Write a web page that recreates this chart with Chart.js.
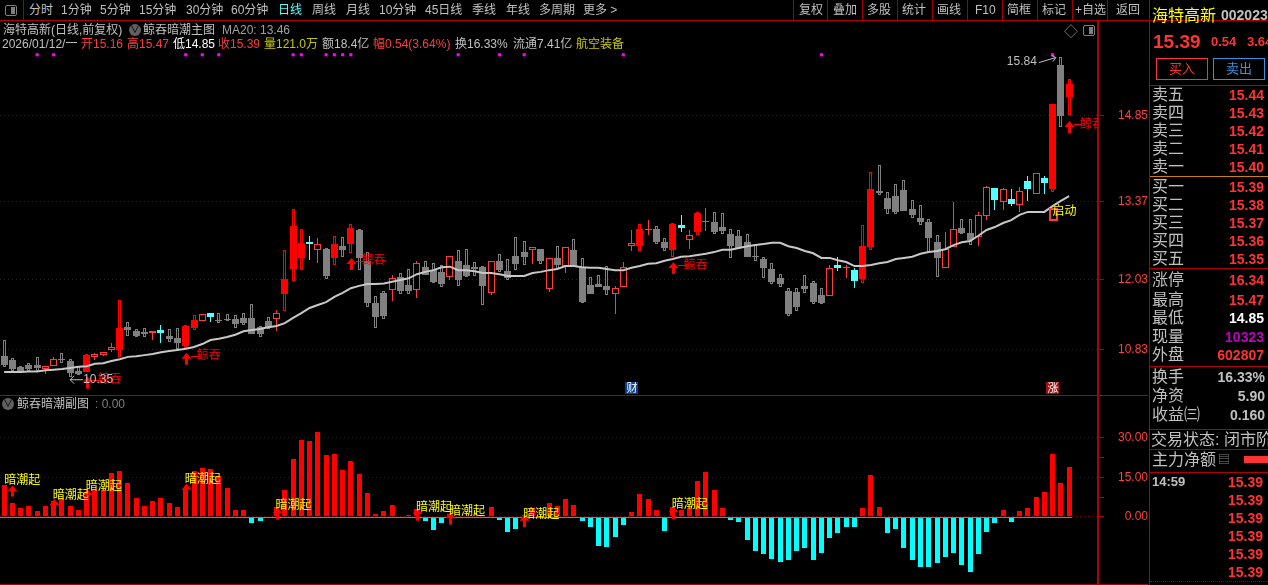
<!DOCTYPE html>
<html>
<head>
<meta charset="utf-8">
<title>海特高新</title>
<script src="https://cdn.jsdelivr.net/npm/chart.js@4"></script>
<style>
  html, body { margin: 0; padding: 0; background: #000; overflow: hidden; }
  #stage { position: relative; width: 1268px; height: 585px; overflow: hidden; background: #000;
    font-family: "Liberation Sans", "Noto Sans CJK SC", sans-serif; font-size: 12px; color: #c0c0c0; }
  #stage span.t { position: absolute; white-space: nowrap; line-height: 16px; height: 16px; }
  #stage div.l { position: absolute; }
  canvas { position: absolute; left: 0; }
</style>
</head>
<body>
<div id="stage">
  <canvas id="mainChart" width="1148" height="375" style="top:20px"></canvas>
  <canvas id="subChart" width="1148" height="190" style="top:395px"></canvas>
</div>
<script>
// 日K (前复权) 价格
const opens = [
  10.71,10.65,10.53,10.56,10.56,10.49,10.54,10.66,10.63,10.46,
  10.44,10.70,10.73,10.82,10.82,11.21,11.14,11.13,11.11,11.16,
  11.06,11.02,10.89,11.20,11.32,11.45,11.33,11.35,11.35,11.37,
  11.37,11.21,11.32,11.35,11.78,12.21,12.40,12.67,12.54,12.55,
  12.40,12.60,12.64,12.88,12.35,11.62,11.80,11.85,12.07,11.93,
  11.85,12.24,12.19,12.16,12.07,12.35,12.28,12.24,12.24,11.80,
  12.35,12.17,12.43,12.50,12.54,12.55,11.87,12.40,12.26,12.54,
  12.24,11.93,11.95,11.92,11.78,11.90,12.60,12.60,12.88,12.90,
  12.67,12.54,12.97,12.71,12.84,13.02,13.02,12.93,12.81,12.78,
  12.67,12.43,12.38,12.21,12.05,11.83,11.82,11.92,11.97,11.76,
  11.75,12.28,12.23,12.19,12.04,12.59,13.55,13.43,13.46,13.57,
  13.24,13.09,13.02,12.67,12.23,12.59,12.91,12.83,12.76,13.12,
  13.60,13.36,13.41,13.31,13.72,13.50,13.77,13.58,15.71,15.16
];
const highs = [
  10.99,10.68,10.54,10.59,10.70,10.54,10.70,10.77,10.66,10.54,
  10.75,10.77,10.78,10.94,11.68,11.30,11.18,11.20,11.14,11.25,
  11.18,11.20,11.25,11.42,11.44,11.45,11.45,11.44,11.42,11.45,
  11.61,11.23,11.38,11.51,12.54,13.24,12.90,12.78,12.74,12.57,
  12.78,12.76,12.98,12.90,12.50,11.75,11.83,12.11,12.14,12.21,
  12.35,12.35,12.31,12.28,12.43,12.54,12.55,12.33,12.26,12.35,
  12.47,12.38,12.76,12.69,12.59,12.55,12.40,12.60,12.59,12.72,
  12.40,12.07,12.11,12.26,11.92,12.33,12.88,12.98,13.05,12.95,
  12.74,13.00,13.14,12.88,13.19,13.26,13.19,13.17,12.90,12.88,
  12.81,12.62,12.42,12.31,12.12,11.88,11.88,12.11,12.00,11.88,
  12.28,12.42,12.28,12.23,12.97,13.88,14.00,13.53,13.67,13.74,
  13.40,13.31,13.07,12.79,12.84,13.36,13.07,13.07,13.19,13.64,
  13.60,13.60,13.58,13.62,13.81,13.86,13.81,15.04,15.85,15.47
];
const lows = [
  10.53,10.46,10.43,10.46,10.46,10.41,10.54,10.59,10.35,10.39,
  10.44,10.65,10.71,10.78,10.70,11.06,11.04,11.04,10.99,10.94,
  10.96,10.84,10.85,11.16,11.32,11.30,11.28,11.32,11.20,11.25,
  11.09,11.04,11.18,11.14,11.49,12.00,12.19,12.36,12.31,12.04,
  12.28,12.42,12.48,12.19,11.56,11.20,11.35,11.66,11.78,11.78,
  11.71,12.11,11.97,11.90,12.02,11.92,12.07,12.09,11.59,11.76,
  12.16,12.02,12.19,12.28,12.30,12.30,11.82,12.21,12.14,12.24,
  11.62,11.78,11.90,11.76,11.44,11.90,12.52,12.52,12.79,12.64,
  12.52,12.42,12.84,12.55,12.79,12.86,12.81,12.81,12.40,12.55,
  12.42,12.35,12.05,11.95,11.90,11.40,11.49,11.80,11.61,11.61,
  11.75,12.17,12.05,11.88,11.97,12.54,13.48,13.15,13.15,13.21,
  13.09,12.97,12.50,12.07,12.23,12.59,12.81,12.62,12.60,13.05,
  13.22,13.22,13.29,13.19,13.38,13.50,13.50,13.53,14.65,14.85
];
const closes = [
  10.56,10.49,10.44,10.49,10.51,10.54,10.66,10.65,10.42,10.41,
  10.73,10.75,10.78,10.87,11.20,11.16,11.06,11.09,11.14,11.11,
  11.01,10.94,11.23,11.33,11.44,11.38,11.32,11.33,11.27,11.28,
  11.09,11.09,11.21,11.45,12.04,12.95,12.66,12.64,12.64,12.09,
  12.64,12.54,12.91,12.40,11.62,11.38,11.40,12.05,11.83,11.83,
  12.31,12.11,11.99,11.95,12.43,12.02,12.09,12.21,11.92,12.35,
  12.19,12.05,12.30,12.42,12.59,12.35,12.40,12.28,12.59,12.26,
  11.64,11.78,11.90,11.85,11.88,12.24,12.66,12.90,12.90,12.67,
  12.57,12.98,12.91,12.79,13.17,13.03,12.84,12.86,12.60,12.57,
  12.42,12.42,12.23,11.99,11.95,11.44,11.56,11.87,11.64,11.62,
  12.23,12.23,12.24,12.00,12.60,13.58,13.52,13.24,13.19,13.21,
  13.14,13.02,12.74,12.40,12.55,12.90,12.83,12.71,13.14,13.62,
  13.40,13.58,13.33,13.55,13.58,13.86,13.69,15.04,14.84,15.39
];
// K线状态 G=跌 R=涨实体 H=涨空心 C=青色信号
const candleState = (
  'G G G G G H H G G G ' + 'R H H H R G G G H C ' + 'G G R R H C G G G G ' +
  'G G G H R R R C H G ' + 'R G R G G G G H G G ' + 'H G G G H G G G G H ' +
  'G G G G H G H G H G ' + 'G G G G H H H R H G ' + 'G R C H R H G G G G ' +
  'G G G G G G G G G G ' + 'H C H C R R G G G G ' + 'G G G G H H G G H H ' +
  'C H C H C H C R G R').split(' ');
const ma20 = [
  10.44,10.44,10.44,10.45,10.45,10.47,10.48,10.49,10.51,10.53,
  10.54,10.58,10.59,10.63,10.66,10.70,10.71,10.73,10.75,10.78,
  10.80,10.82,10.84,10.87,10.92,10.99,11.01,11.04,11.08,11.14,
  11.16,11.18,11.21,11.23,11.28,11.37,11.45,11.54,11.59,11.64,
  11.73,11.80,11.88,11.92,11.95,11.95,11.96,11.99,12.02,12.05,
  12.12,12.16,12.19,12.24,12.25,12.19,12.19,12.17,12.14,12.14,
  12.12,12.09,12.09,12.09,12.14,12.16,12.19,12.21,12.26,12.26,
  12.24,12.23,12.23,12.21,12.19,12.19,12.23,12.26,12.30,12.31,
  12.35,12.38,12.42,12.43,12.45,12.47,12.50,12.54,12.54,12.57,
  12.60,12.62,12.64,12.66,12.66,12.60,12.57,12.52,12.48,12.40,
  12.40,12.36,12.33,12.26,12.26,12.28,12.31,12.33,12.38,12.40,
  12.42,12.47,12.50,12.52,12.55,12.62,12.67,12.69,12.78,12.88,
  12.93,13.00,13.05,13.14,13.19,13.19,13.19,13.29,13.38,13.46
];
// 副图柱
const subValues = [
  11.9,5.4,3.5,4.3,2.4,4.3,6.2,7.0,4.3,2.8,
  8.1,10,10,16.5,17.2,12.7,7.3,4.3,6.2,7.3,
  5.1,3.9,10.6,17.2,18.4,18,15.3,10.8,2.8,2.8,
  -2.2,-1.4,0,3.7,10,21.8,29,28.6,32,23.3,
  23.7,17.6,21,16.1,9.2,1.3,2.4,4.7,0,0.9,
  3,-1.4,-4.8,-2.2,1.1,0.5,0.5,0.3,0.8,3.9,
  -1,-5.6,-4.4,0.8,3.5,0.5,5.4,4.3,6.6,4.7,
  -1.4,-3.7,-10.9,-11.3,-7.5,-2.9,2,8.5,6.6,2.8,
  -5.2,3.9,2.8,3.5,13.4,16.8,10,3.2,-1,-1.8,
  -8.6,-12.8,-13.9,-15.8,-17,-16.2,-12.7,-11.6,-16.2,-13.5,
  -7.8,-5.9,-3.7,-3.7,3.5,15.7,3.9,-5.9,-4.4,-11.6,
  -16.2,-18.9,-18.9,-17.3,-15,-13.5,-18.1,-20.8,-13.9,-5.6,
  -2.2,2.8,-1.8,2.4,3.5,7.7,9.6,23.7,12.7,18.7
];
const priceTicks = [14.85, 13.37, 12.03, 10.83];
const subTicks = [30, 22.5, 15, 7.5, 0];
const subTickLabels = { 30: '30.00', 15: '15.00', 0: '0.00' };

// 信号
const magentaIndex = [4,6,22,24,26,35,36,39,40,41,42,55,60,63,75,99,127];
const magentaPrice = 15.89;
const whaleIndex = [10,22,42,81,129];
const whaleTip = [10.36,10.77,12.40,12.33,14.75];
const darkTextIndex = [0,6,10,22,33,50,54,63,81];
const darkArrowIndex = [1,6,10,22,33,50,54,63,81];
const darkArrowTip = [11.9,6.8,10.6,12.5,3.7,3.4,1.8,0.8,4.0];
const darkArrowEnd = [7.7,4.2,7.5,9.5,-1,-1.4,-2.9,-3.9,-0.8];
const darkTextValue = [14.2,8.5,11.9,14.5,4.7,3.9,2.4,1.3,5.1];

const labels = [];
for (let i = 0; i < 133; i++) labels.push(i < 130 ? String(i) : '');

const bodyFill = { G: '#808080', R: '#ff0000', H: '#000000', C: '#54ffff' };
const bodyLine = { G: '#808080', R: '#ff0000', H: '#ff3c3c', C: '#54ffff' };
const gridRed = '#7a0000';
const axisRed = '#b00000';
const tickRed = '#ff4040';
const numFont = '12px "Liberation Sans", "Noto Sans CJK SC"';

// 把柱子对齐到整数像素,否则1px影线会发虚
const pixelSnap = {
  id: 'pixelSnap',
  afterDatasetsUpdate(chart) {
    chart.getSortedVisibleDatasetMetas().forEach(meta => {
      if (meta.type !== 'bar') return;
      meta.data.forEach(el => {
        if (!isFinite(el.x) || !isFinite(el.y)) return;
        el.x = Math.round(el.x - el.width / 2) + el.width / 2;
        el.y = Math.round(el.y);
        el.base = Math.round(el.base);
      });
    });
  }
};

function upArrow(ctx, x, tipY, endY) {
  x = Math.round(x);
  ctx.fillStyle = '#ff0000';
  ctx.beginPath();
  ctx.moveTo(x + 0.5, tipY);
  ctx.lineTo(x + 5.5, tipY + 6);
  ctx.lineTo(x - 4.5, tipY + 6);
  ctx.closePath();
  ctx.fill();
  ctx.fillRect(x - 1, tipY + 5, 3, endY - tipY - 5);
}

const mainMarks = {
  id: 'mainMarks',
  afterDatasetsDraw(chart) {
    const { ctx, scales: { x, y }, chartArea } = chart;
    ctx.save();
    ctx.beginPath();
    ctx.rect(chartArea.left, chartArea.top, chartArea.width, chartArea.height);
    ctx.clip();
    ctx.textBaseline = 'middle';

    // 鲸吞
    whaleIndex.forEach((idx, n) => {
      const px = x.getPixelForValue(idx);
      const tip = y.getPixelForValue(whaleTip[n]);
      upArrow(ctx, px, tip, tip + 12);
      ctx.fillRect(Math.round(px) + 5, Math.round(tip) + 3, 7, 1);
      ctx.font = '12px "Noto Sans CJK SC"';
      ctx.fillText('鲸吞', px + 11, tip + 2);
    });

    // 最低价 10.35
    const lowX = x.getPixelForValue(8);
    const lowY = y.getPixelForValue(lows[8]);
    ctx.strokeStyle = '#c0c0c0';
    ctx.fillStyle = '#c0c0c0';
    ctx.lineWidth = 1;
    ctx.beginPath();
    ctx.moveTo(lowX + 13, lowY + 2.5);
    ctx.lineTo(lowX, lowY + 2.5);
    ctx.moveTo(lowX + 4, lowY - 1.5);
    ctx.lineTo(lowX, lowY + 2.5);
    ctx.lineTo(lowX + 4, lowY + 6.5);
    ctx.stroke();
    ctx.font = numFont;
    ctx.textAlign = 'left';
    ctx.fillText(lows[8].toFixed(2), lowX + 13, lowY + 2);

    // 最高价 15.84
    const topX = x.getPixelForValue(128);
    const topY = y.getPixelForValue(highs[128]);
    ctx.beginPath();
    ctx.moveTo(topX - 22, topY + 5.5);
    ctx.lineTo(topX - 5, topY + 0.5);
    ctx.moveTo(topX - 9, topY - 1.5);
    ctx.lineTo(topX - 5, topY + 0.5);
    ctx.lineTo(topX - 8, topY + 4.5);
    ctx.stroke();
    ctx.textAlign = 'right';
    ctx.fillText('15.84', topX - 24, topY + 5);
    ctx.textAlign = 'left';

    // 启动
    const startX = x.getPixelForValue(127);
    ctx.strokeStyle = '#ff3c3c';
    ctx.lineWidth = 2;
    ctx.strokeRect(Math.round(startX) - 3, y.getPixelForValue(13.24), 7, 11);
    ctx.fillStyle = '#ffff00';
    ctx.font = '12px "Noto Sans CJK SC"';
    ctx.fillText('启动', startX, y.getPixelForValue(13.21));

    // 财 / 涨
    [[76, '财', '#0a3f90'], [127, '涨', '#a01010']].forEach(([idx, txt, bg]) => {
      const px = Math.round(x.getPixelForValue(idx));
      ctx.fillStyle = bg;
      ctx.fillRect(px - 7, 362, 13, 12);
      ctx.fillStyle = '#ffffff';
      ctx.font = '11px "Noto Sans CJK SC"';
      ctx.textAlign = 'center';
      ctx.fillText(txt, px, 368);
    });
    ctx.restore();
  }
};

const subMarks = {
  id: 'subMarks',
  afterDatasetsDraw(chart) {
    const { ctx, scales: { x, y } } = chart;
    ctx.save();
    // 零轴
    ctx.fillStyle = '#808080';
    ctx.fillRect(0, Math.round(y.getPixelForValue(0)), Math.round(x.getPixelForValue(129)) + 3, 1);
    darkArrowIndex.forEach((idx, n) => {
      upArrow(ctx, x.getPixelForValue(idx), y.getPixelForValue(darkArrowTip[n]), y.getPixelForValue(darkArrowEnd[n]));
    });
    ctx.fillStyle = '#ffff00';
    ctx.font = '12px "Noto Sans CJK SC"';
    ctx.textBaseline = 'middle';
    darkTextIndex.forEach((idx, n) => {
      ctx.fillText('暗潮起', x.getPixelForValue(idx) - (idx === 0 ? 0 : 1), y.getPixelForValue(darkTextValue[n]));
    });
    ctx.restore();
  }
};

function yAxis(min, max, ticks, label) {
  return {
    position: 'right',
    min: min,
    max: max,
    afterFit: s => {
      // 刻度标签不要把绘图区往里缩
      s.width = 50;
      s.paddingTop = 0;
      s.paddingBottom = 0;
      s._margins.top = 0;
      s._margins.bottom = 0;
    },
    afterBuildTicks: s => { s.ticks = ticks.map(v => ({ value: v })); },
    border: { color: axisRed, width: 2, dash: [1, 3] },
    grid: {
      color: c => (label(c.tick.value) ? gridRed : 'transparent'),
      tickColor: axisRed,
      tickLength: 6,
      tickBorderDash: []
    },
    ticks: {
      color: tickRed,
      font: { family: '"Liberation Sans"', size: 12 },
      autoSkip: false,
      padding: 9,
      crossAlign: 'far',
      callback: v => label(v)
    }
  };
}

Chart.defaults.animation = false;

new Chart(document.getElementById('mainChart'), {
  type: 'bar',
  plugins: [pixelSnap, mainMarks],
  data: {
    labels: labels,
    datasets: [
      {
        type: 'line', label: 'signal', order: 0,
        data: labels.map((l, i) => (magentaIndex.includes(i) ? magentaPrice : null)),
        showLine: false, pointStyle: 'rect', pointRadius: 2.2,
        pointBackgroundColor: '#ff00ff', pointBorderWidth: 0
      },
      {
        type: 'line', label: 'MA20', order: 1, data: ma20,
        borderColor: '#c8c8c8', borderWidth: 2, pointRadius: 0, tension: 0
      },
      {
        label: 'body', order: 2, grouped: false, barThickness: 7,
        data: opens.map((o, i) => [o, closes[i]]),
        backgroundColor: candleState.map(s => bodyFill[s]),
        borderColor: candleState.map(s => bodyLine[s]),
        borderWidth: 1, borderSkipped: false, inflateAmount: 0
      },
      {
        label: 'thinWick', order: 3, grouped: false, barThickness: 1,
        data: lows.map((l, i) => ('HC'.includes(candleState[i]) ? [l, highs[i]] : null)),
        backgroundColor: candleState.map(s => bodyLine[s]),
        borderWidth: 0, inflateAmount: 0
      },
      {
        label: 'hollowWick', order: 4, grouped: false, barThickness: 3,
        data: lows.map((l, i) => ('GR'.includes(candleState[i]) ? [l, highs[i]] : null)),
        backgroundColor: '#000000',
        borderColor: candleState.map(s => bodyLine[s]),
        borderWidth: 1, borderSkipped: false, inflateAmount: 0
      }
    ]
  },
  options: {
    responsive: false,
    layout: { padding: 0, autoPadding: false },
    plugins: { legend: { display: false }, tooltip: { enabled: false } },
    scales: {
      x: { display: false, offset: true },
      y: yAxis(10.045, 16.487, priceTicks, v => v.toFixed(2))
    }
  }
});

new Chart(document.getElementById('subChart'), {
  type: 'bar',
  plugins: [pixelSnap, subMarks],
  data: {
    labels: labels,
    datasets: [{
      label: '鲸吞暗潮副图', grouped: false, barThickness: 5,
      data: subValues,
      backgroundColor: subValues.map(v => (v >= 0 ? '#ff0000' : '#00ffff')),
      borderWidth: 0, inflateAmount: 0
    }]
  },
  options: {
    responsive: false,
    layout: { padding: 0, autoPadding: false },
    plugins: { legend: { display: false }, tooltip: { enabled: false } },
    scales: {
      x: { display: false, offset: true },
      y: yAxis(-25.71, 46.07, subTicks, v => subTickLabels[v] || '')
    }
  }
});

// 以下是图表外的界面文字
const stage = document.getElementById('stage');
function put(text, x, cy, color, size, extra) {
  const s = document.createElement('span');
  s.className = 't';
  s.textContent = text;
  s.style.left = x + 'px';
  s.style.top = (cy - 8) + 'px';
  if (color) s.style.color = color;
  if (size) s.style.fontSize = size + 'px';
  if (extra) Object.assign(s.style, extra);
  stage.appendChild(s);
  return s;
}
function putRight(text, right, cy, color, size, extra) {
  const s = put(text, 0, cy, color, size, extra);
  s.style.left = 'auto';
  s.style.right = (1268 - right) + 'px';
  return s;
}
function rule(x, y, w, h, color) {
  const d = document.createElement('div');
  d.className = 'l';
  d.style.cssText = `left:${x}px;top:${y}px;width:${w}px;height:${h}px;background:${color}`;
  stage.appendChild(d);
}

const menuItems = [['分时',29],['1分钟',61],['5分钟',100],['15分钟',139],['30分钟',186],['60分钟',231],
  ['日线',278],['周线',312],['月线',346],['10分钟',379],['45日线',425],['季线',472],['年线',506],['多周期',539],['更多 >',583]];
menuItems.forEach(([t, x]) => put(t, x, 10, t === '日线' ? '#54ffff' : '#c0c0c0', 12));
const toolItems = [['复权',799],['叠加',833],['多股',867],['统计',902],['画线',937],['F10',975],['简框',1007],['标记',1042],['+自选',1075],['返回',1116]];
toolItems.forEach(([t, x]) => put(t, x, 10, '#c0c0c0', 12));
[793,827,862,897,932,967,1002,1037,1072,1107].forEach(x => rule(x, 0, 1, 20, '#a00000'));
rule(23, 0, 1, 20, '#a00000');
rule(0, 20, 1268, 1, '#b00000');
rule(0, 395, 1148, 1, '#b00000');
rule(0, 584, 1148, 1, '#b00000');
rule(1149, 0, 1, 585, '#b00000');

// 左上角小图标
function boxIcon(x, y) {
  const d = document.createElement('div');
  d.className = 'l';
  d.style.cssText = `left:${x}px;top:${y}px;width:10px;height:9px;border:1px solid #808080;border-radius:2px;`;
  const i = document.createElement('div');
  i.className = 'l';
  i.style.cssText = 'left:5px;top:1px;width:4px;height:7px;background:#808080';
  d.appendChild(i);
  stage.appendChild(d);
}
boxIcon(5, 5);
boxIcon(1083, 25);
put('◇', 1064, 31, '#808080', 14);

function downIcon(x, y) {
  const d = document.createElement('div');
  d.className = 'l';
  d.style.cssText = `left:${x}px;top:${y}px;width:12px;height:12px;border-radius:6px;background:#606060;color:#000;font-size:10px;line-height:11px;text-align:center`;
  d.textContent = '∨';
  stage.appendChild(d);
}

put('海特高新(日线,前复权)', 3, 30, '#c0c0c0', 12);
downIcon(129, 24);
put('鲸吞暗潮主图', 143, 30, '#c0c0c0', 12);
put('MA20: 13.46', 222, 30, '#a0a0a0', 12);

const infoRow = [
  ['2026/01/12/一',2,'#c0c0c0'],['开',81,'#ff3c3c'],['15.16',93,'#ff3c3c'],['高',127,'#ff3c3c'],['15.47',139,'#ff3c3c'],
  ['低',173,'#ffffff'],['14.85',185,'#ffffff'],['收',218,'#ff3c3c'],['15.39',230,'#ff3c3c'],
  ['量',264,'#c8c800'],['121.0万',276,'#c8c800'],['额',322,'#c0c0c0'],['18.4亿',334,'#c0c0c0'],
  ['幅',373,'#ff3c3c'],['0.54(3.64%)',385,'#ff3c3c'],['换',455,'#c0c0c0'],['16.33%',467,'#c0c0c0'],
  ['流通',513,'#c0c0c0'],['7.41亿',537,'#c0c0c0'],['航空装备',576,'#c8c800']
];
infoRow.forEach(([t, x, c]) => put(t, x, 44, c, 12));

downIcon(2, 398);
put('鲸吞暗潮副图', 17, 404, '#c0c0c0', 12);
put(': 0.00', 95, 404, '#808080', 12);

// 右侧盘口
const red = '#ff3333';
const bold = { fontWeight: 'bold' };
put('海特高新', 1152, 16, '#ffff00', 16);
put('002023', 1221, 15, '#c0c0c0', 14, bold);
put('15.39', 1153, 42, red, 19, bold);
put('0.54', 1211, 42, red, 13, bold);
put('3.64', 1247, 42, red, 13, bold);

function tradeButton(x, w, text, color) {
  const d = document.createElement('div');
  d.className = 'l';
  d.style.cssText = `left:${x}px;top:58px;width:${w}px;height:20px;border:1px solid ${color};color:${color};font-size:13px;line-height:20px;text-align:center`;
  d.textContent = text;
  stage.appendChild(d);
}
tradeButton(1156, 50, '买入', '#ff3333');
tradeButton(1213, 50, '卖出', '#3a90e0');

const askLabels = ['卖五','卖四','卖三','卖二','卖一'];
const askPrices = ['15.44','15.43','15.42','15.41','15.40'];
const askY = [95,113,131,149,167];
const bidLabels = ['买一','买二','买三','买四','买五'];
const bidPrices = ['15.39','15.38','15.37','15.36','15.35'];
const bidY = [187,205,223,241,259];
askLabels.forEach((t, i) => {
  put(t, 1152, askY[i], '#c0c0c0', 16);
  putRight(askPrices[i], 1264, askY[i], red, 14, bold);
});
bidLabels.forEach((t, i) => {
  put(t, 1152, bidY[i], '#c0c0c0', 16);
  putRight(bidPrices[i], 1264, bidY[i], red, 14, bold);
});
rule(1150, 85, 118, 1, '#b00000');
rule(1150, 176, 118, 1, '#d08000');
rule(1150, 268, 118, 1, '#b00000');

const statLabels = ['涨停','最高','最低','现量','外盘'];
const statValues = ['16.34','15.47','14.85','10323','602807'];
const statColors = [red, red, '#ffffff', '#c000c0', red];
const statY = [280,300,318,337,355];
statLabels.forEach((t, i) => {
  put(t, 1152, statY[i], '#c0c0c0', 16);
  putRight(statValues[i], 1264, statY[i], statColors[i], 14, bold);
});
rule(1150, 366, 118, 1, '#b00000');

const infoLabels = ['换手','净资','收益㈢'];
const infoValues = ['16.33%','5.90','0.160'];
const infoY = [377,396,415];
infoLabels.forEach((t, i) => {
  put(t, 1152, infoY[i], '#c0c0c0', 16);
  putRight(infoValues[i], 1265, infoY[i], '#c0c0c0', 14, bold);
});
rule(1150, 429, 118, 1, '#b00000');
put('交易状态: 闭市阶段', 1151, 440, '#c0c0c0', 16);
rule(1150, 449, 118, 1, '#b00000');
put('主力净额', 1152, 460, '#c0c0c0', 16);
put('▤', 1218, 460, '#808080', 12);
rule(1244, 456, 24, 7, red);
rule(1150, 472, 118, 1, '#b00000');

const tickTimes = ['14:59','','','','',''];
const tickPrices = ['15.39','15.39','15.39','15.39','15.39','15.39'];
const tickY = [482,500,518,536,554,572];
tickPrices.forEach((p, i) => {
  if (tickTimes[i]) put(tickTimes[i], 1152, tickY[i], '#c0c0c0', 13, bold);
  putRight(p, 1263, tickY[i], red, 14, bold);
});
// 分笔表下面的虚线
const tickEnd = document.createElement('div');
tickEnd.className = 'l';
tickEnd.style.cssText = 'left:1150px;top:581px;width:118px;border-top:1px dotted #900000';
stage.appendChild(tickEnd);
</script>
</body>
</html>
